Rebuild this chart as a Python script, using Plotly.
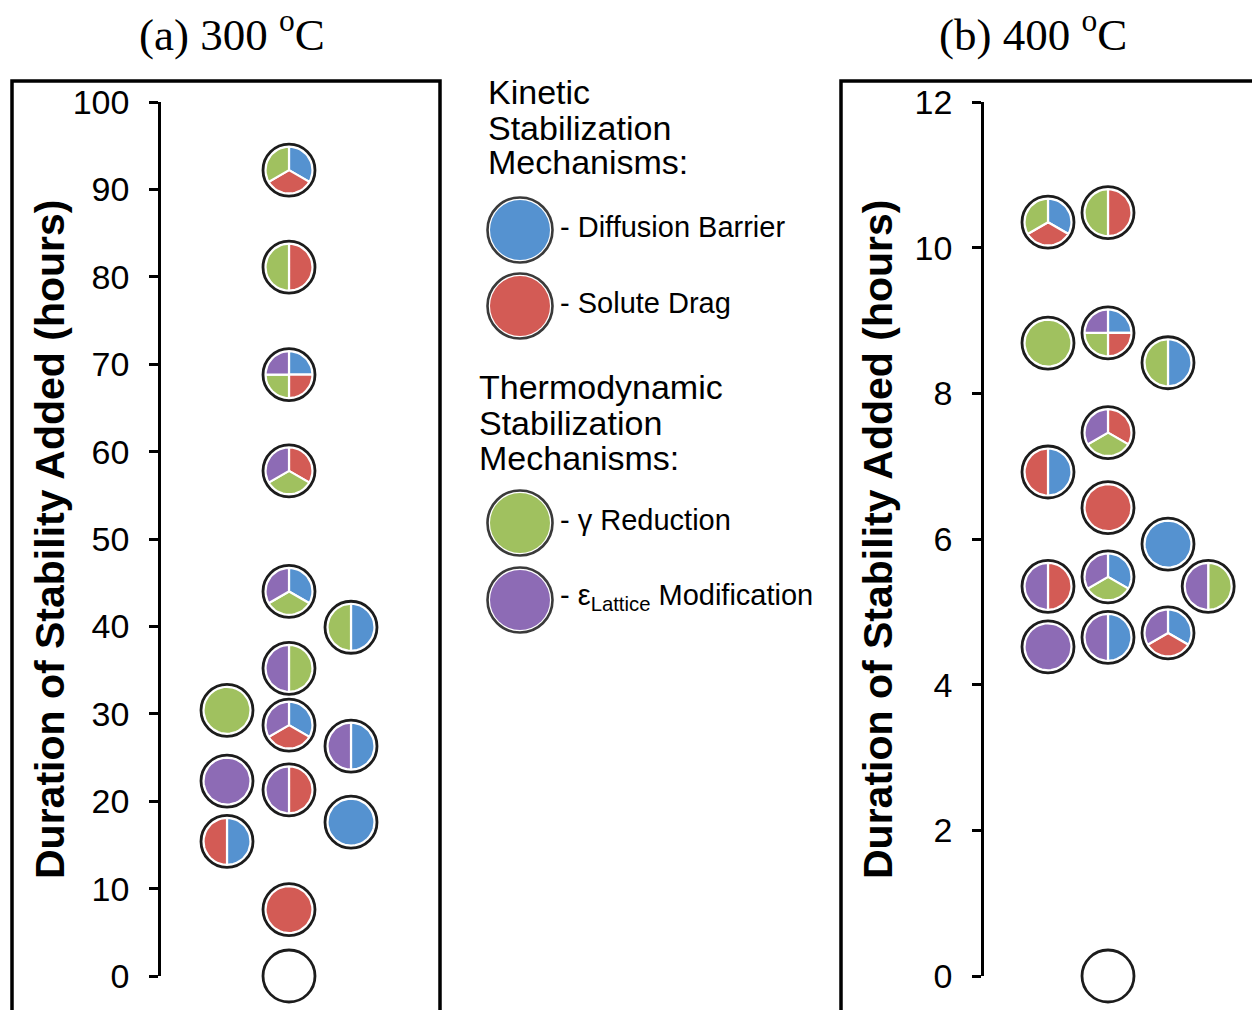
import math
import plotly.graph_objects as go

W, H = 1252, 1010

# Stabilization mechanism colours
COLORS = {
    "diffusion": "#5592D0",
    "drag": "#D35B55",
    "gamma": "#A0C15F",
    "lattice": "#8D6BB5",
}

# ---- (a) 300 oC: column, hours added, mechanisms clockwise from 12 o'clock ----
a_col = [2, 2, 2, 2, 2, 3, 2, 1, 2, 3, 1, 2, 3, 1, 2, 2]
a_hours = [92.2, 81.1, 68.8, 57.8, 44.0, 39.9, 35.2, 30.4, 28.7, 26.3, 22.3, 21.3, 17.6, 15.4, 7.6, 0.0]
a_mech = [
    ["diffusion", "drag", "gamma"],
    ["drag", "gamma"],
    ["diffusion", "drag", "gamma", "lattice"],
    ["drag", "gamma", "lattice"],
    ["diffusion", "gamma", "lattice"],
    ["diffusion", "gamma"],
    ["gamma", "lattice"],
    ["gamma"],
    ["diffusion", "drag", "lattice"],
    ["diffusion", "lattice"],
    ["lattice"],
    ["drag", "lattice"],
    ["diffusion"],
    ["diffusion", "drag"],
    ["drag"],
    [],
]

# ---- (b) 400 oC ----
b_col = [1, 2, 1, 2, 3, 2, 1, 2, 3, 1, 2, 3.67, 1, 2, 3, 2]
b_hours = [10.35, 10.48, 8.69, 8.83, 8.42, 7.46, 6.92, 6.43, 5.93, 5.35, 5.48, 5.35, 4.52, 4.65, 4.71, 0.0]
b_mech = [
    ["diffusion", "drag", "gamma"],
    ["drag", "gamma"],
    ["gamma"],
    ["diffusion", "drag", "gamma", "lattice"],
    ["diffusion", "gamma"],
    ["drag", "gamma", "lattice"],
    ["diffusion", "drag"],
    ["drag"],
    ["diffusion"],
    ["drag", "lattice"],
    ["diffusion", "gamma", "lattice"],
    ["gamma", "lattice"],
    ["lattice"],
    ["diffusion", "lattice"],
    ["diffusion", "drag", "lattice"],
    [],
]

a_ticks = [0, 10, 20, 30, 40, 50, 60, 70, 80, 90, 100]
b_ticks = [0, 2, 4, 6, 8, 10, 12]

legend_keys = ["diffusion", "drag", "gamma", "lattice"]
legend_labels = ["- Diffusion Barrier", "- Solute Drag", "- \u03b3 Reduction",
                 "- \u03b5<sub>Lattice</sub> Modification"]


def px(x):
    return x / W


def py(y):
    return 1 - y / H


# plot-area geometry (pixels)
Y_TOP, Y_BOT = 102, 976
A_X0, A_X1, A_COL1, A_STEP = 161, 440, 227, 62
B_X0, B_X1, B_COL1, B_STEP = 984, 1252, 1048, 60
R_FILL = 23.5  # radius of the coloured disc, px
N_ARC = 48


def x_range(x0, x1, c1, step):
    return [1 - (c1 - x0) / step, 1 + (x1 - c1) / step]


def pie_traces(cols, hours, mechs, xstep, ymax, xa, ya):
    ppx = xstep
    ppy = (Y_BOT - Y_TOP) / ymax
    polys = {k: ([], []) for k in COLORS}
    for cx, cy, m in zip(cols, hours, mechs):
        n = len(m)
        for k, key in enumerate(m):
            xs, ys = polys[key]
            a0 = 360.0 * k / n
            a1 = 360.0 * (k + 1) / n
            if n > 1:
                xs.append(cx)
                ys.append(cy)
            steps = max(4, int(N_ARC * (a1 - a0) / 360))
            for i in range(steps + 1):
                t = math.radians(a0 + (a1 - a0) * i / steps)
                xs.append(cx + R_FILL * math.sin(t) / ppx)
                ys.append(cy + R_FILL * math.cos(t) / ppy)
            if n > 1:
                xs.append(cx)
                ys.append(cy)
            xs.append(None)
            ys.append(None)
    traces = []
    for key, (xs, ys) in polys.items():
        if not xs:
            continue
        traces.append(go.Scatter(
            x=xs, y=ys, mode="lines", fill="toself", fillcolor=COLORS[key],
            line=dict(color="white", width=2.2), xaxis=xa, yaxis=ya,
            hoverinfo="skip", showlegend=False))
    fills = ["white" if len(m) == 0 else "rgba(0,0,0,0)" for m in mechs]
    traces.append(go.Scatter(
        x=cols, y=hours, mode="markers", cliponaxis=False,
        marker=dict(symbol="circle", size=52, color=fills,
                    line=dict(color="#1c1c1c", width=2.8)),
        xaxis=xa, yaxis=ya, hoverinfo="skip", showlegend=False))
    return traces


fig = go.Figure()
for tr in pie_traces(a_col, a_hours, a_mech, A_STEP, 100, "x", "y"):
    fig.add_trace(tr)
for tr in pie_traces(b_col, b_hours, b_mech, B_STEP, 12, "x2", "y2"):
    fig.add_trace(tr)

# legend swatches on a full-page overlay axis
leg_x = [520, 520, 520, 520]
leg_y = [230, 306, 523, 600]
fig.add_trace(go.Scatter(
    x=leg_x, y=leg_y, mode="markers", cliponaxis=False,
    marker=dict(size=65, color="white", line=dict(color="#3a3a3a", width=2.6)),
    xaxis="x3", yaxis="y3", hoverinfo="skip", showlegend=False))
fig.add_trace(go.Scatter(
    x=leg_x, y=leg_y, mode="markers", cliponaxis=False,
    marker=dict(size=60, color=[COLORS[k] for k in legend_keys], line=dict(width=0)),
    xaxis="x3", yaxis="y3", hoverinfo="skip", showlegend=False))

yd = [py(Y_BOT), py(Y_TOP)]
tick_font = dict(family="Liberation Sans, Arial, sans-serif", size=34, color="black")
yaxis_common = dict(showline=True, linecolor="black", linewidth=2.6, ticks="outside",
                    ticklen=9, tickwidth=2.6, tickcolor="black", showgrid=False,
                    zeroline=False, tickfont=tick_font, ticklabelstandoff=13,
                    automargin=False)

fig.update_layout(
    width=W, height=H,
    margin=dict(l=0, r=0, t=0, b=0, pad=0, autoexpand=False),
    paper_bgcolor="white", plot_bgcolor="rgba(0,0,0,0)", showlegend=False,
    xaxis=dict(domain=[px(A_X0), px(A_X1)], range=x_range(A_X0, A_X1, A_COL1, A_STEP),
               visible=False, anchor="y", automargin=False),
    yaxis=dict(domain=yd, range=[0, 100], tickvals=a_ticks, anchor="x", **yaxis_common),
    xaxis2=dict(domain=[px(B_X0), px(B_X1)], range=x_range(B_X0, B_X1, B_COL1, B_STEP),
                visible=False, anchor="y2", automargin=False),
    yaxis2=dict(domain=yd, range=[0, 12], tickvals=b_ticks, anchor="x2", **yaxis_common),
    xaxis3=dict(domain=[0, 1], range=[0, W], visible=False, anchor="y3", automargin=False),
    yaxis3=dict(domain=[0, 1], range=[H, 0], visible=False, anchor="x3", automargin=False),
)

# panel frames
frame = dict(color="black", width=3.5)
fig.add_shape(type="rect", xref="paper", yref="paper", x0=px(12), x1=px(440),
              y0=py(81), y1=py(1030), line=frame, layer="below")
fig.add_shape(type="rect", xref="paper", yref="paper", x0=px(841), x1=px(1270),
              y0=py(81), y1=py(1030), line=frame, layer="below")

sans = "Liberation Sans, Arial, sans-serif"
serif = "Liberation Serif, Times New Roman, serif"


def note(text, x, y, size, xanchor="left", family=sans, angle=0):
    fig.add_annotation(text=text, x=px(x), y=py(y), xref="paper", yref="paper",
                       xanchor=xanchor, yanchor="middle", showarrow=False,
                       textangle=angle, font=dict(family=family, size=size, color="black"))


note("(a) 300 <sup>o</sup>C", 232, 31, 45, xanchor="center", family=serif)
note("(b) 400 <sup>o</sup>C", 1033, 31, 45, xanchor="center", family=serif)

ytitle = "<b>Duration of Stability Added (hours)</b>"
note(ytitle, 50, 539, 41, xanchor="center", angle=-90)
note(ytitle, 878, 539, 41, xanchor="center", angle=-90)

for txt, y in [("Kinetic", 92), ("Stabilization", 128), ("Mechanisms:", 162)]:
    note(txt, 486, y, 34)
for txt, y in [("Thermodynamic", 387), ("Stabilization", 423), ("Mechanisms:", 458)]:
    note(txt, 477, y, 34)
for txt, y in zip(legend_labels, leg_y):
    note(txt, 558, y - 3, 29)

fig.write_html("out.html")
